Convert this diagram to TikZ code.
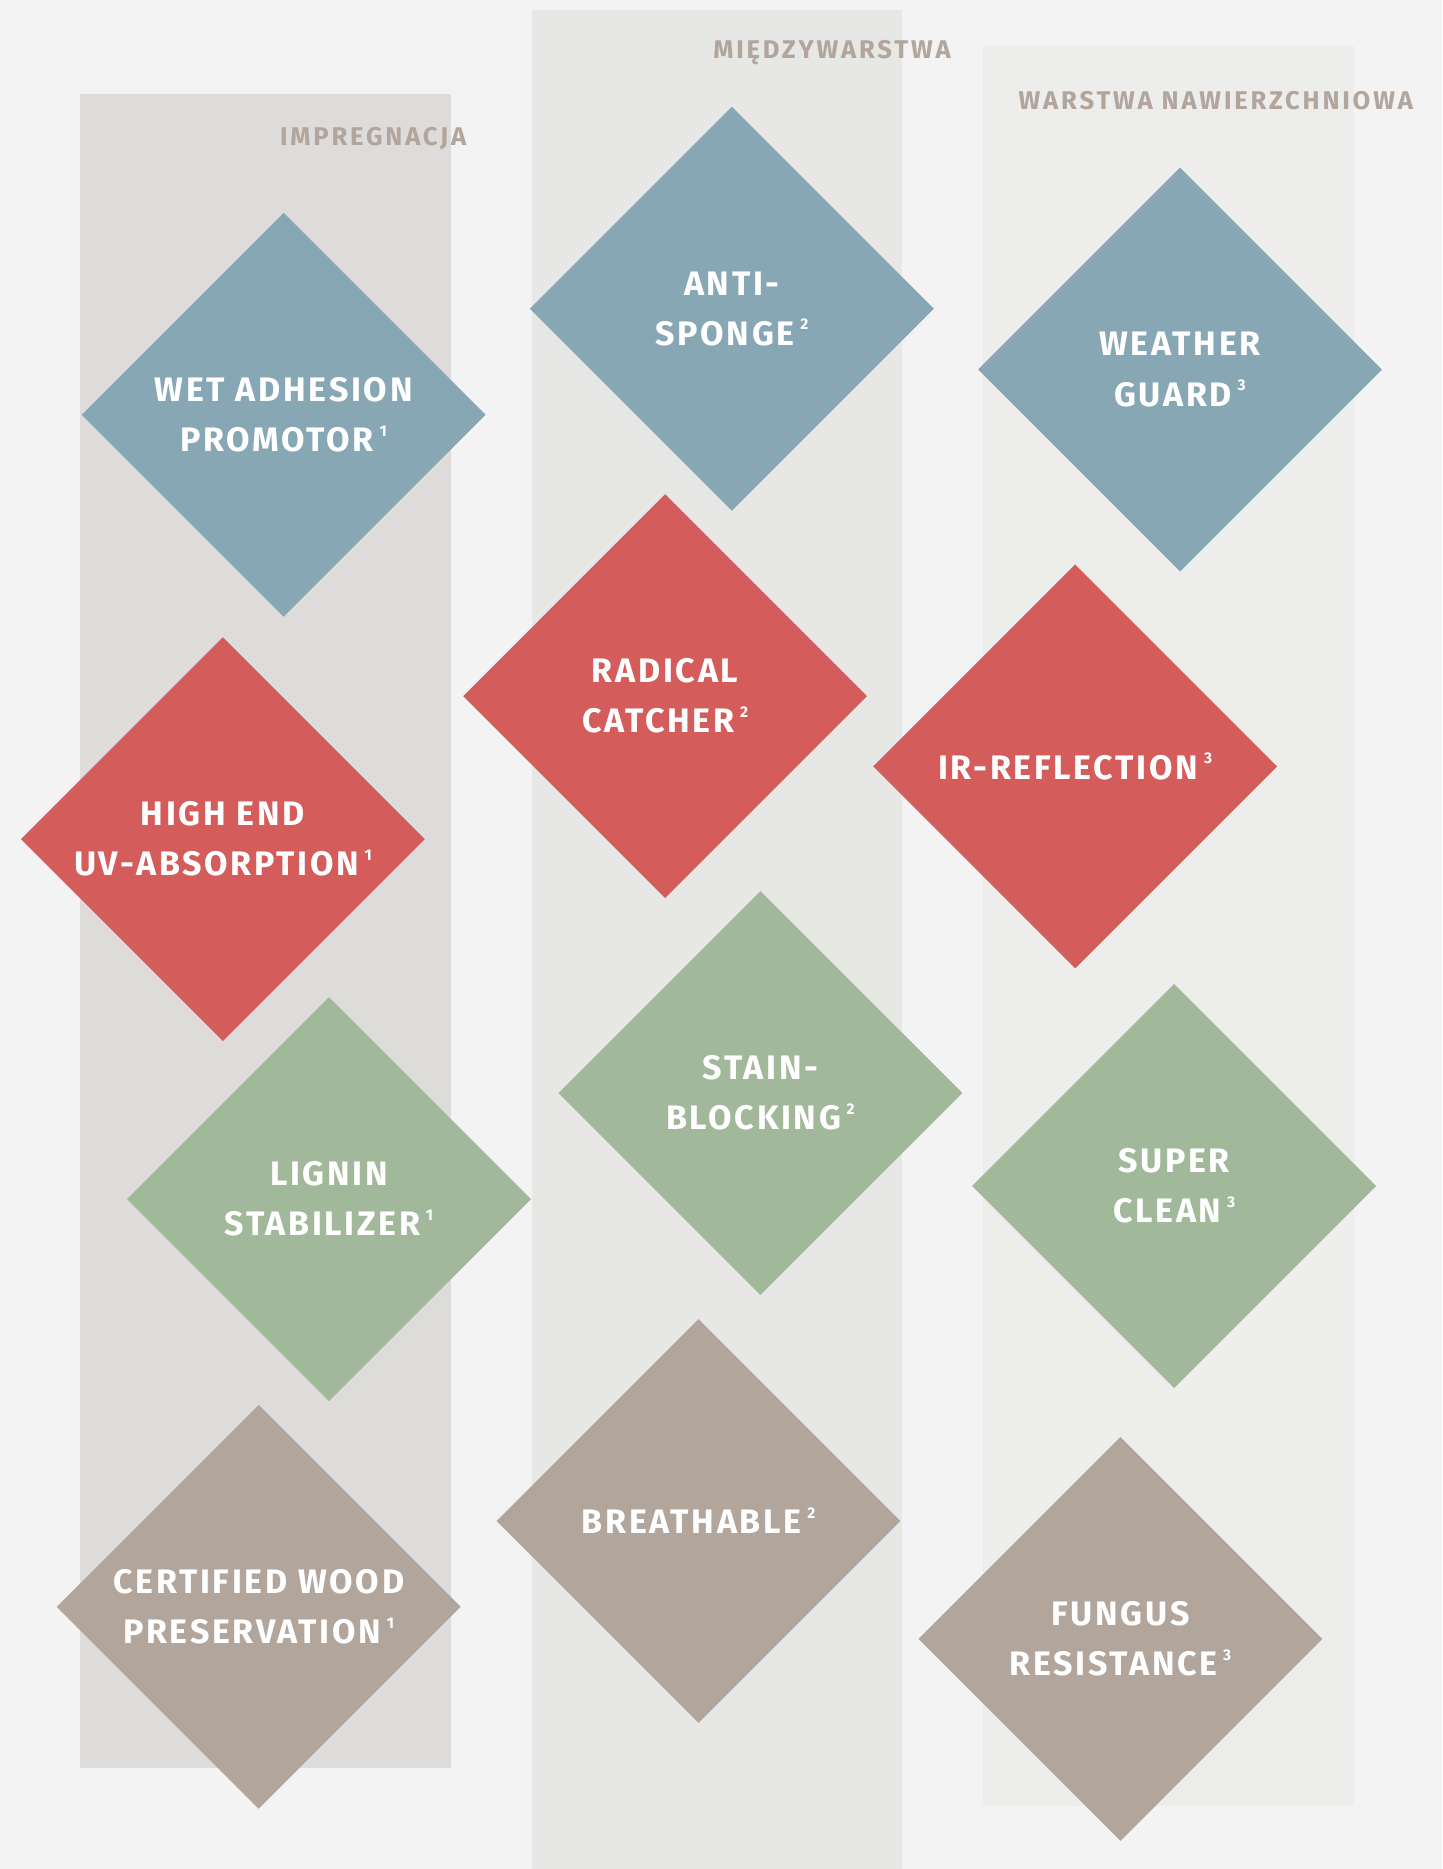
\documentclass[tikz,border=0pt]{standalone}
\usepackage{fontspec}
\setmainfont{Fira Sans}
\usetikzlibrary{shapes.geometric}
\definecolor{pagebg}{HTML}{F3F3F3}
\definecolor{colone}{HTML}{DEDCDA}
\definecolor{coltwo}{HTML}{E7E7E5}
\definecolor{colthree}{HTML}{EDEDEB}
\definecolor{gemblue}{HTML}{88A7B4}
\definecolor{gemred}{HTML}{D45C5B}
\definecolor{gemgreen}{HTML}{A1B99A}
\definecolor{gemtaupe}{HTML}{B1A59C}
\newcommand\lay[1]{\,\raisebox{0.85ex}{\fontsize{13}{13}\selectfont #1}}

\begin{document}
\begin{tikzpicture}[
			x=1pt, y=-1pt,
			gem/.style={diamond, minimum size=339pt, inner sep=0pt},
			gemtext/.style={text=white, align=center, inner sep=0pt, font=\bfseries\fontsize{28.5}{42}\selectfont\addfontfeature{LetterSpace=8}},
			head/.style={text=gemtaupe, inner sep=0pt, font=\bfseries\fontsize{21.5}{21.5}\selectfont\addfontfeature{LetterSpace=11}}
		]

		\fill[pagebg] (0,0) rectangle (1210,1568);
		\useasboundingbox (0,0) rectangle (1210,1568);

		% columns
		\fill[colone] (67,79) rectangle (378,1483);
		\fill[coltwo] (446,8) rectangle (757,1568);
		\fill[colthree] (825,39) rectangle (1136,1515);

		\node[head] (impreg) at (313,116) {IMPREGNACJA};
		\node[head] (midlayer) at (698,44) {MIĘDZYWARSTWA};
		\node[head] (toplayer) at (1020,84) {WARSTWA NAWIERZCHNIOWA};

		% impregnacja
		\node[gem, fill=gemblue] (wet) at (238,348) {};
		\node[gemtext] (wet-t) at (wet) {WET ADHESION\\PROMOTOR\lay{1}};
		\node[gem, fill=gemred] (uv) at (187,704) {};
		\node[gemtext] (uv-t) at (uv) {HIGH END\\UV-ABSORPTION\lay{1}};
		\node[gem, fill=gemgreen] (lignin) at (276,1006) {};
		\node[gemtext] (lignin-t) at (lignin) {LIGNIN\\STABILIZER\lay{1}};
		\node[gem, fill=gemtaupe] (wood) at (217,1348) {};
		\node[gemtext] (wood-t) at (wood) {CERTIFIED WOOD\\PRESERVATION\lay{1}};

		% miedzywarstwa
		\node[gem, fill=gemblue] (sponge) at (614,259) {};
		\node[gemtext] (sponge-t) at (sponge) {ANTI-\\SPONGE\lay{2}};
		\node[gem, fill=gemred] (radical) at (558,584) {};
		\node[gemtext] (radical-t) at (radical) {RADICAL\\CATCHER\lay{2}};
		\node[gem, fill=gemgreen] (stain) at (638,917) {};
		\node[gemtext] (stain-t) at (stain) {STAIN-\\BLOCKING\lay{2}};
		\node[gem, fill=gemtaupe] (breath) at (586,1276) {};
		\node[gemtext] (breath-t) at (breath) {BREATHABLE\lay{2}};

		% warstwa nawierzchniowa
		\node[gem, fill=gemblue] (weather) at (990,310) {};
		\node[gemtext] (weather-t) at (weather) {WEATHER\\GUARD\lay{3}};
		\node[gem, fill=gemred] (ir) at (902,643) {};
		\node[gemtext] (ir-t) at (ir) {IR-REFLECTION\lay{3}};
		\node[gem, fill=gemgreen] (clean) at (985,995) {};
		\node[gemtext] (clean-t) at (clean) {SUPER\\CLEAN\lay{3}};
		\node[gem, fill=gemtaupe] (fungus) at (940,1375) {};
		\node[gemtext] (fungus-t) at (fungus) {FUNGUS\\RESISTANCE\lay{3}};

	\end{tikzpicture}
\end{document}
